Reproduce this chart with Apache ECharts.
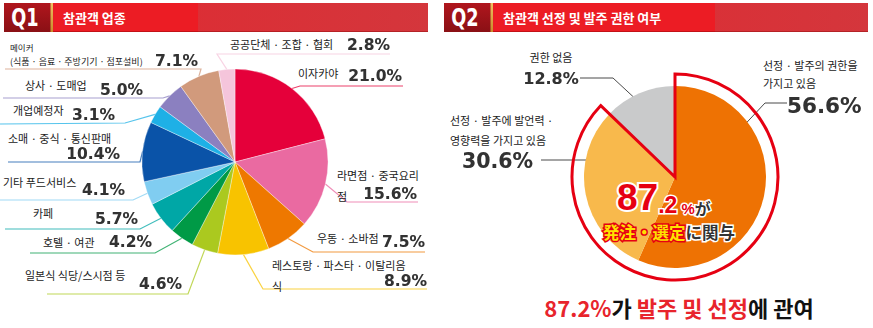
<!DOCTYPE html>
<html><head><meta charset="utf-8">
<script src="https://cdn.jsdelivr.net/npm/echarts@6/dist/echarts.min.js"></script>
<style>html,body{margin:0;padding:0;background:#fff}#c{width:873px;height:328px}</style>
</head><body><div id="c"></div>
<script>
// ---------------- DATA ----------------
const Q1_LABEL = 'Q1';
const Q1_TITLE = '참관객 업종';
const Q2_LABEL = 'Q2';
const Q2_TITLE = '참관객 선정 및 발주 권한 여부';

const Q1_CATEGORIES = [
  '이자카야',
  '라면점 · 중국요리점',
  '우동 · 소바점',
  '레스토랑 · 파스타 · 이탈리음식',
  '일본식 식당/스시점 등',
  '호텔 · 여관',
  '카페',
  '기타 푸드서비스',
  '소매 · 중식 · 통신판매',
  '개업예정자',
  '상사 · 도매업',
  '메이커 (식품 · 음료 · 주방기기 · 점포설비)',
  '공공단체 · 조합 · 협회'
];
const Q1_VALUES = [21.0, 15.6, 7.5, 8.9, 4.6, 4.2, 5.7, 4.1, 10.4, 3.1, 5.0, 7.1, 2.8];

const Q2_CATEGORIES = [
  '선정 · 발주의 권한을 가지고 있음',
  '선정 · 발주에 발언력 · 영향력을 가지고 있음',
  '권한 없음'
];
const Q2_VALUES = [56.6, 30.6, 12.8];
const Q2_CENTER_TEXT = ['%', 'が', '発注・選定', 'に関与'];
const Q2_FOOTER_TEXT = ['가', '발주 및 선정', '에 관여'];

// ---------------- STYLE / LAYOUT ----------------
const Q1_COLORS = ['#e5003a', '#ea6aa1', '#ee7800', '#f8c300', '#abc91f', '#009a46', '#00a7a6',
  '#80cdf1', '#0a53a8', '#1eb0e6', '#8b80c0', '#d19a7c', '#f5c5db'];
const Q2_COLORS = ['#ee7203', '#f8b94c', '#c9cacb'];

const KR = "'Noto Sans CJK KR', 'Noto Sans', sans-serif";
const JP = "'Noto Sans CJK JP', sans-serif";
const NUMF = "'DejaVu Sans', sans-serif";
const BIGF = "'Liberation Sans', Arial, sans-serif";
const QF = "'DejaVu Sans Condensed', 'Liberation Sans Narrow', sans-serif";

const Q1_CENTER = [235, 162], Q1_RADIUS = 93;
const Q2_CENTER = [675, 177], Q2_RADIUS = 91, Q2_RING = 103;

// label block placement (left x, top y, width) + leader elbow/end
const Q1_LABEL_LAYOUT = [
  {x: 298, y: 67,    w: 104, d: 3,   line: [[300, 86], [403, 86]]},
  {x: 337, y: 167,   w: 80,  kind: 'B', wrapAfter: '중국요리', nbLH: 18.5, pVA: 'bottom', line: [[347, 202], [418, 202]]},
  {x: 317, y: 232,   w: 108, d: 4,   line: [[313, 252], [425, 252]]},
  {x: 272, y: 257,   w: 155, kind: 'B', wrapAfter: '이탈리음', nbLH: 18.5, pVA: 'top', line: [[263, 289], [427, 289]]},
  {x: 25,  y: 269.5, w: 157, d: 9,   line: [[188, 294], [47, 294]]},
  {x: 43,  y: 236,   w: 109, d: 0,   line: [[155, 253], [30, 253]]},
  {x: 33,  y: 207,   w: 105, d: 6,   line: [[140, 229], [5, 229]]},
  {x: 3,   y: 176,   w: 122, d: 8,   line: [[133, 200], [0, 200]]},
  {x: 8,   y: 130,   w: 112, kind: 'C', line: [[140, 162], [8, 162]]},
  {x: 13,  y: 104.5, w: 102, d: 4.5, line: [[125, 123], [0, 124]]},
  {x: 25,  y: 79.5,  w: 118, d: 4.5, line: [[163, 98], [3, 98]]},
  {x: 10,  y: 40.5,  w: 188, kind: 'D', wrapAfter: '메이커', line: [[201, 69], [5, 69]]},
  {x: 230, y: 38.5,  w: 160, d: 1,   line: [[217, 54], [390, 54]]}
];
const Q2_LABEL_LAYOUT = [
  {x: 763, y: 56,  wrapAfter: '권한을',  nLH: 18, pLH: 26, pad: 24, fs: 21.5, align: 'left',
   line: [[735, 135], [765, 103], [787, 103]]},
  {x: 450, y: 110, wrapAfter: '발언력 ·', nLH: 20, pLH: 22, pad: 12, fs: 20.5, align: 'left',
   line: [[592, 160], [566, 160], [541, 160]]},
  {x: 551, y: 49,  nLH: 16, pLH: 26, pad: 0, fs: 16, align: 'center',
   line: [[641, 104], [613, 78], [580, 78]]}
];

// ---------------- BUILD ----------------
function pct(v) { return v.toFixed(1) + '%'; }
function splitName(name, after) {
  if (!after) return [name, ''];
  const k = name.indexOf(after) + after.length;
  return [name.slice(0, k).trim(), name.slice(k).trim()];
}

const N = {fontFamily: KR, fontSize: 11, color: '#222'};
const P = {fontFamily: NUMF, fontSize: 15.5, fontWeight: 'bold', color: '#333',
  textShadowColor: 'rgba(0,0,0,0.25)', textShadowBlur: 1.5};

const q1Data = Q1_VALUES.map(function (v, i) {
  const L = Q1_LABEL_LAYOUT[i];
  const name = Q1_CATEGORIES[i];
  const kind = L.kind || 'A';
  let fmt, rich;
  if (kind === 'A') {
    fmt = '{n|' + name + '}{p|' + pct(v) + '}';
    rich = {n: Object.assign({}, N, {lineHeight: 11, verticalAlign: 'top'}),
            p: Object.assign({}, P, {lineHeight: 11 + 2 * L.d, align: 'right'})};
  } else if (kind === 'B') {
    const s = splitName(name, L.wrapAfter);
    fmt = '{n|' + s[0] + '}\n{nb|' + s[1] + '}{p|' + pct(v) + '}';
    rich = {n: Object.assign({}, N, {lineHeight: 16}),
            nb: Object.assign({}, N, {lineHeight: L.nbLH, verticalAlign: 'bottom'}),
            p: Object.assign({}, P, {lineHeight: 14, verticalAlign: L.pVA, align: 'right'})};
  } else if (kind === 'C') {
    fmt = '{n|' + name + '}\n{p|' + pct(v) + '}';
    rich = {n: Object.assign({}, N, {lineHeight: 16}),
            p: Object.assign({}, P, {lineHeight: 16, align: 'right'})};
  } else {
    const s = splitName(name, L.wrapAfter);
    fmt = '{m|' + s[0] + '}\n{s|' + s[1] + '}{p|' + pct(v) + '}';
    rich = {m: Object.assign({}, N, {fontSize: 8.5, lineHeight: 12}),
            s: Object.assign({}, N, {fontSize: 9, lineHeight: 18}),
            p: Object.assign({}, P, {lineHeight: 14, verticalAlign: 'top', align: 'right'})};
  }
  return {
    value: v, name: name,
    itemStyle: {color: Q1_COLORS[i]},
    label: {formatter: fmt, rich: rich, width: L.w, overflow: 'none'},
    labelLine: {lineStyle: {color: Q1_COLORS[i]}}
  };
});

const N2 = {fontFamily: KR, fontSize: 11, color: '#222'};
const q2Data = Q2_VALUES.map(function (v, i) {
  const L = Q2_LABEL_LAYOUT[i];
  const s = splitName(Q2_CATEGORIES[i], L.wrapAfter);
  const lines = s.filter(Boolean).map(function (t) { return '{n|' + t + '}'; });
  lines.push('{p|' + pct(v) + '}');
  return {
    value: v, name: Q2_CATEGORIES[i],
    itemStyle: {color: Q2_COLORS[i]},
    label: {formatter: lines.join('\n'), overflow: 'none',
      rich: {n: Object.assign({}, N2, {lineHeight: L.nLH}),
             p: {fontFamily: NUMF, fontWeight: 'bold', color: '#333', fontSize: L.fs, lineHeight: L.pLH,
                 padding: [0, 0, 0, L.pad], textShadowColor: 'rgba(0,0,0,0.25)', textShadowBlur: 1.5}}}
  };
});

const total = Q2_VALUES[0] + Q2_VALUES[1];
const totalStr = total.toFixed(1);
const intPart = totalStr.split('.')[0], decPart = totalStr.split('.')[1];

function header(x0, qText, title, brightW) {
  return [
    {type: 'rect', shape: {x: x0, y: 3, width: 47, height: 29}, silent: true,
     style: {fill: {type: 'linear', x: 0, y: 0, x2: 0, y2: 1, colorStops: [{offset: 0, color: '#b0161d'}, {offset: 1, color: '#8a1015'}]}}},
    {type: 'rect', shape: {x: x0 + 46.5, y: 3, width: 2.5, height: 29}, silent: true,
     style: {fill: {type: 'linear', x: 0, y: 0, x2: 0, y2: 1, colorStops: [{offset: 0, color: '#f0c060'}, {offset: 1, color: '#c98a2a'}]}}},
    {type: 'rect', shape: {x: x0 + 49, y: 3, width: 375, height: 29}, silent: true,
     style: {fill: {type: 'linear', x: 0, y: 0, x2: 1, y2: 0, colorStops: [{offset: 0, color: '#e02a31'}, {offset: 1, color: '#d4363c'}]}}},
    {type: 'rect', shape: {x: x0 + 49, y: 3, width: brightW, height: 29}, silent: true,
     style: {fill: '#ec1c24'}},
    {type: 'rect', shape: {x: x0 + 49, y: 31, width: 375, height: 1}, silent: true,
     style: {fill: 'rgba(120,0,0,0.35)'}},
    {type: 'text', silent: true, x: x0 + 21, y: 18, scaleX: 0.82, style: {text: qText, x: 0, y: 0, align: 'center', verticalAlign: 'middle',
      fill: '#fff', fontSize: 24, fontWeight: 'bold', fontFamily: QF}},
    {type: 'text', silent: true, style: {text: title, x: x0 + 59, y: 17.5, align: 'left', verticalAlign: 'middle',
      fill: '#fff', fontSize: 13, fontWeight: 'bold', fontFamily: KR}}
  ];
}

const option = {
  animation: false,
  backgroundColor: '#fff',
  textStyle: {fontFamily: KR},
  series: [
    {
      type: 'pie', center: Q1_CENTER, radius: Q1_RADIUS, startAngle: 90, clockwise: true,
      avoidLabelOverlap: false, silent: true, emphasis: {disabled: true},
      itemStyle: {borderColor: 'rgba(255,255,255,0.7)', borderWidth: 0.5},
      label: {show: true, position: 'outside', alignTo: 'none'},
      labelLine: {show: true, length: 8, length2: 8, smooth: false, lineStyle: {width: 1.2, opacity: 0.75}},
      labelLayout: function (params) {
        const L = Q1_LABEL_LAYOUT[params.dataIndex];
        const p0 = params.labelLinePoints ? params.labelLinePoints[0] : L.line[0];
        return {x: L.x, y: L.y, align: 'left', verticalAlign: 'top', width: L.w,
                labelLinePoints: [p0, L.line[0], L.line[1]]};
      },
      data: q1Data
    },
    {
      type: 'pie', center: Q2_CENTER, radius: Q2_RADIUS, startAngle: 90, clockwise: true,
      avoidLabelOverlap: false, silent: true, emphasis: {disabled: true},
      label: {show: true, position: 'outside', alignTo: 'none'},
      labelLine: {show: true, length: 8, length2: 8, smooth: false, lineStyle: {width: 1, color: '#4a4a4a'}},
      labelLayout: function (params) {
        const L = Q2_LABEL_LAYOUT[params.dataIndex];
        return {x: L.x, y: L.y, align: L.align, verticalAlign: 'top', labelLinePoints: L.line};
      },
      data: q2Data
    },
    {
      type: 'pie', center: Q2_CENTER, radius: Q2_RING, startAngle: 90, clockwise: true, z: 3,
      silent: true, emphasis: {disabled: true}, label: {show: false}, labelLine: {show: false},
      itemStyle: {color: 'rgba(0,0,0,0)', borderColor: '#e60012', borderWidth: 3, borderJoin: 'miter'},
      data: [
        {value: total},
        {value: Q2_VALUES[2], itemStyle: {borderWidth: 0, borderColor: 'rgba(0,0,0,0)'}}
      ]
    }
  ],
  graphic: [].concat(
    header(4, Q1_LABEL, Q1_TITLE, 145),
    header(444, Q2_LABEL, Q2_TITLE, 222),
    [
      {type: 'text', silent: true, z: 10, style: {
        text: '{a|' + intPart + '}{b|.' + decPart + '}{c| ' + Q2_CENTER_TEXT[0] + '}{d|' + Q2_CENTER_TEXT[1] + '}',
        x: 617, y: 180, align: 'left', verticalAlign: 'top',
        rich: {
          a: {fontFamily: BIGF, fontSize: 37, fontWeight: 'bold', fill: '#e60012', stroke: '#fff', lineWidth: 4, lineHeight: 36, verticalAlign: 'bottom'},
          b: {fontFamily: BIGF, fontSize: 23, fontWeight: 'bold', fill: '#e60012', stroke: '#fff', lineWidth: 3, lineHeight: 36, verticalAlign: 'bottom'},
          c: {fontFamily: BIGF, fontSize: 15, fontWeight: 'bold', fill: '#e60012', stroke: '#fff', lineWidth: 3, lineHeight: 36, verticalAlign: 'bottom'},
          d: {fontFamily: JP, fontSize: 16, fontWeight: 'bold', fill: '#333', stroke: '#fff', lineWidth: 3, lineHeight: 36, verticalAlign: 'bottom'}
        }}},
      {type: 'text', silent: true, z: 10, style: {
        text: '{y|' + Q2_CENTER_TEXT[2] + '}{g|' + Q2_CENTER_TEXT[3] + '}',
        x: 603, y: 223, align: 'left', verticalAlign: 'top',
        rich: {
          y: {fontFamily: JP, fontSize: 16.5, fontWeight: 'bold', fill: '#ffe100', stroke: '#e60012', lineWidth: 3, lineHeight: 18},
          g: {fontFamily: JP, fontSize: 16.5, fontWeight: 'bold', fill: '#333', stroke: '#fff', lineWidth: 3, lineHeight: 18}
        }}},
      {type: 'text', silent: true, style: {
        text: '{r|' + totalStr + '%}{k|' + Q2_FOOTER_TEXT[0] + ' }{r|' + Q2_FOOTER_TEXT[1] + '}{k|' + Q2_FOOTER_TEXT[2] + '}',
        x: 679, y: 307, align: 'center', verticalAlign: 'middle',
        rich: {
          r: {fontFamily: KR, fontSize: 22, fontWeight: 'bold', fill: '#e8242c'},
          k: {fontFamily: KR, fontSize: 22, fontWeight: 'bold', fill: '#111'}
        }}}
    ]
  )
};

const chart = echarts.init(document.getElementById('c'), null, {renderer: 'svg', width: 873, height: 328});
chart.setOption(option);
</script>
</body></html>
